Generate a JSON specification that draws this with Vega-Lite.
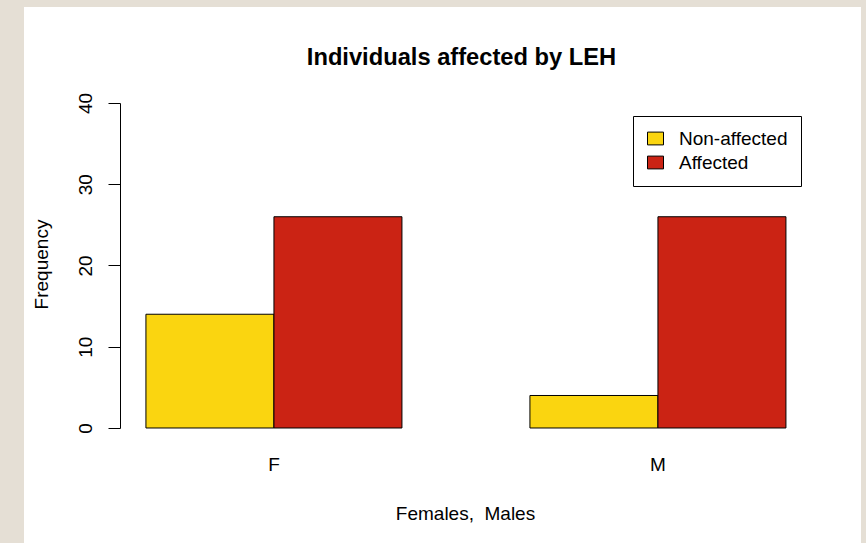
{
  "$schema": "https://vega.github.io/schema/vega-lite/v6.json",
  "width": 837,
  "height": 536,
  "autosize": {"type": "none"},
  "padding": {"left": 24, "top": 7, "right": 5, "bottom": 0},
  "background": "#e5dfd5",
  "title": {
    "text": "Individuals affected by LEH",
    "font": "Liberation Sans",
    "fontSize": 23.7,
    "fontWeight": "bold",
    "color": "black",
    "frame": "group",
    "anchor": "middle",
    "baseline": "alphabetic",
    "offset": -60,
    "dx": 19,
    "dy": 22
  },
  "data": {
    "values": [
      {"sex": "F", "status": "Non-affected", "count": 14},
      {"sex": "F", "status": "Affected", "count": 26},
      {"sex": "M", "status": "Non-affected", "count": 4},
      {"sex": "M", "status": "Affected", "count": 26}
    ]
  },
  "mark": {"type": "bar", "stroke": "black", "strokeWidth": 1, "opacity": 1, "fillOpacity": 1},
  "encoding": {
    "x": {
      "field": "sex",
      "type": "nominal",
      "scale": {"domain": ["F", "M"], "paddingInner": 0.3333, "paddingOuter": 0.2565, "align": 0.619},
      "axis": {
        "title": "Females,\u00a0 Males",
        "orient": "bottom",
        "offset": -115,
        "domain": false,
        "ticks": false,
        "tickSize": 0,
        "grid": false,
        "labelAngle": 0,
        "labelFont": "Liberation Sans",
        "labelFontSize": 19,
        "labelColor": "black",
        "labelBaseline": "alphabetic",
        "labelPadding": 42.5,
        "titleFont": "Liberation Sans",
        "titleFontSize": 19,
        "titleFontWeight": "normal",
        "titleColor": "black",
        "titleX": 441,
        "titleY": 91,
        "titleBaseline": "alphabetic",
        "titleAlign": "center"
      }
    },
    "xOffset": {
      "field": "status",
      "type": "nominal",
      "scale": {"domain": ["Non-affected", "Affected"], "paddingInner": 0, "paddingOuter": 0}
    },
    "y": {
      "field": "count",
      "type": "quantitative",
      "scale": {"domain": [-14.154, 51.815], "nice": false, "zero": false},
      "axis": {
        "title": "Frequency",
        "orient": "left",
        "offset": -96,
        "values": [0, 10, 20, 30, 40],
        "grid": false,
        "domainColor": "black",
        "domainDash": [0, 115, 325, 2000],
        "tickColor": "black",
        "tickSize": 12,
        "labelAngle": -90,
        "labelAlign": "center",
        "labelBaseline": "middle",
        "labelPadding": 23,
        "labelFlush": false,
        "labelOverlap": false,
        "labelFont": "Liberation Sans",
        "labelFontSize": 19,
        "labelColor": "black",
        "titleFont": "Liberation Sans",
        "titleFontSize": 19,
        "titleFontWeight": "normal",
        "titleColor": "black",
        "titleX": -79,
        "titleY": 257,
        "titleAngle": -90,
        "titleAlign": "center",
        "titleBaseline": "middle"
      }
    },
    "y2": {"datum": 0},
    "color": {
      "field": "status",
      "type": "nominal",
      "scale": {"domain": ["Non-affected", "Affected"], "range": ["#FAD510", "#CB2314"]},
      "legend": {
        "title": null,
        "orient": "none",
        "legendX": 609,
        "legendY": 109,
        "strokeColor": "black",
        "fillColor": "white",
        "padding": 13,
        "labelFont": "Liberation Sans",
        "labelFontSize": 19,
        "labelColor": "black",
        "labelOffset": 14,
        "rowPadding": 4,
        "symbolType": "M-1,-0.8H1V0.8H-1Z",
        "symbolSize": 256,
        "symbolStrokeColor": "black",
        "symbolStrokeWidth": 1,
        "symbolOpacity": 1
      }
    }
  },
  "config": {
    "view": {"fill": "white", "stroke": null}
  }
}
